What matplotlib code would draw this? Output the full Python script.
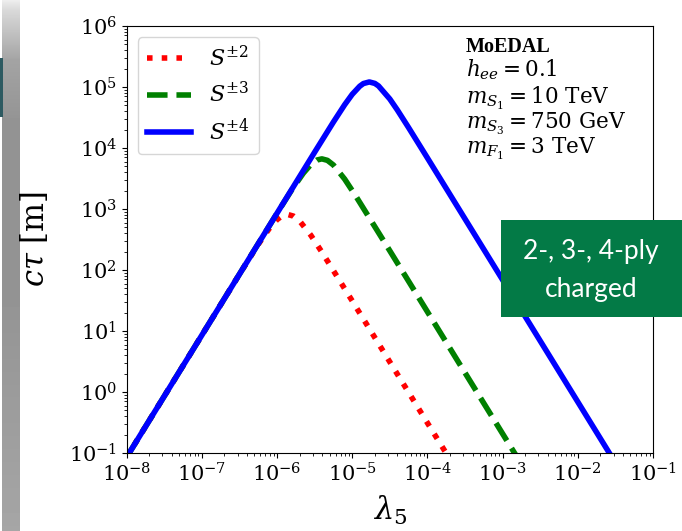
import numpy as np
import matplotlib
matplotlib.use('Agg')
import matplotlib.pyplot as plt
from matplotlib.patches import Rectangle

plt.rcParams['font.family'] = ['DejaVu Serif']
plt.rcParams['mathtext.fontset'] = 'dejavuserif'

# ---- data ----
lam_s2 = [1.0e-8, 1.0e-7, 3.16e-7, 5.62e-7, 7.94e-7, 1.0e-6, 1.17e-6, 1.38e-6,
          1.66e-6, 2.0e-6, 2.82e-6, 3.98e-6, 1.0e-5, 3.16e-5, 1.0e-4, 2.0e-4]
ct_s2 = [0.0851, 8.51, 84.9, 262, 484, 669, 773, 815,
         764, 636, 371, 194, 31.2, 3.12, 0.312, 0.0783]

lam_s3 = [1.0e-8, 1.0e-7, 5.62e-7, 1.0e-6, 1.58e-6, 2.24e-6, 2.82e-6, 3.39e-6,
          3.95e-6, 4.68e-6, 5.62e-6, 7.94e-6, 1.12e-5, 3.16e-5, 1.0e-4, 3.16e-4,
          1.0e-3, 1.78e-3]
ct_s3 = [0.0851, 8.51, 269, 848, 2084, 3867, 5369, 6342,
         6637, 6276, 5266, 3093, 1620, 207, 20.7, 2.07,
         0.207, 0.0655]

lam_s4 = [1.0e-8, 1.0e-7, 1.0e-6, 3.16e-6, 5.62e-6, 7.94e-6, 1.0e-5, 1.26e-5,
          1.41e-5, 1.69e-5, 2.0e-5, 2.24e-5, 3.16e-5, 3.98e-5, 5.62e-5, 1.0e-4,
          1.0e-3, 1.0e-2, 3.16e-2]
ct_s4 = [0.0851, 8.51, 851, 8503, 2.66e4, 5.12e4, 7.58e4, 1.03e5,
         1.14e5, 1.21e5, 1.145e5, 1.04e5, 6.37e4, 4.21e4, 2.16e4, 6.88e3,
         68.9, 0.689, 0.0689]

series_labels = [r'$S^{\pm 2}$', r'$S^{\pm 3}$', r'$S^{\pm 4}$']
x_ticks = [1e-8, 1e-7, 1e-6, 1e-5, 1e-4, 1e-3, 1e-2, 1e-1]
y_ticks = [1e-1, 1e0, 1e1, 1e2, 1e3, 1e4, 1e5, 1e6]
info_lines = ['MoEDAL', r'$h_{ee} = 0.1$', r'$m_{S_1} = 10$ TeV',
              r'$m_{S_3} = 750$ GeV', r'$m_{F_1} = 3$ TeV']
box_lines = ['2-, 3-, 4-ply', 'charged']

W, H = 682, 531
fig = plt.figure(figsize=(W / 100, H / 100), dpi=100)
fig.patch.set_facecolor('white')

# left slide border (gray gradient strip + teal marker)
sax = fig.add_axes([2 / W, 0, 18 / W, 1])
rows = np.arange(H)
shade = np.interp(rows, [0, 10, 60, 120, 300, 531], [0.93, 0.85, 0.64, 0.58, 0.58, 0.65])
sax.imshow(shade[:, None], aspect='auto', cmap='gray', vmin=0, vmax=1,
           extent=[0, 1, 0, 1], origin='upper')
sax.axis('off')
fig.patches.append(Rectangle((0, 1 - 117 / H), 3 / W, 59 / H, transform=fig.transFigure,
                             facecolor='#2d5a61', edgecolor='none', zorder=2))

ax = fig.add_axes([126.6 / W, (H - 453) / H, 526.4 / W, 427 / H])
ax.plot(lam_s2, ct_s2, color='red', ls=':', lw=4, label=series_labels[0])
ax.plot(lam_s3, ct_s3, color='green', ls='--', lw=4, label=series_labels[1])
ax.plot(lam_s4, ct_s4, color='blue', ls='-', lw=4, label=series_labels[2])
ax.set_xscale('log')
ax.set_yscale('log')
ax.set_xlim(1e-8, 1e-1)
ax.set_ylim(1e-1, 1e6)
ax.set_xticks(x_ticks)
ax.set_yticks(y_ticks)
ax.tick_params(labelsize=15)
ax.set_xlabel(r'$\lambda_5$', fontsize=22, labelpad=6)
ax.set_ylabel(r'$c\tau$ [m]', fontsize=22, labelpad=13)

ax.legend(loc='upper left', fontsize=16)

ys = [0.939, 0.881, 0.818, 0.760, 0.701]
for i, (t, yy) in enumerate(zip(info_lines, ys)):
    if i == 0:
        ax.text(0.645, yy, t, transform=ax.transAxes, fontsize=14.5, va='baseline',
                ha='left', fontweight='bold', family=['Liberation Serif', 'DejaVu Serif'])
    else:
        ax.text(0.645, yy, t, transform=ax.transAxes, fontsize=15.5, va='baseline',
                ha='left')

# green annotation box of the slide
fig.patches.append(Rectangle((501 / W, (H - 317) / H), 181 / W, 97 / H,
                             transform=fig.transFigure, facecolor='#037a46',
                             edgecolor='none', zorder=5))
fig.text(591 / W, 1 - 251 / H, box_lines[0], color='white', fontsize=19,
         family=['Lato', 'DejaVu Sans'], ha='center', va='center', zorder=6)
fig.text(591 / W, 1 - 289 / H, box_lines[1], color='white', fontsize=19,
         family=['Lato', 'DejaVu Sans'], ha='center', va='center', zorder=6)

fig.savefig('out.png', dpi=100)
